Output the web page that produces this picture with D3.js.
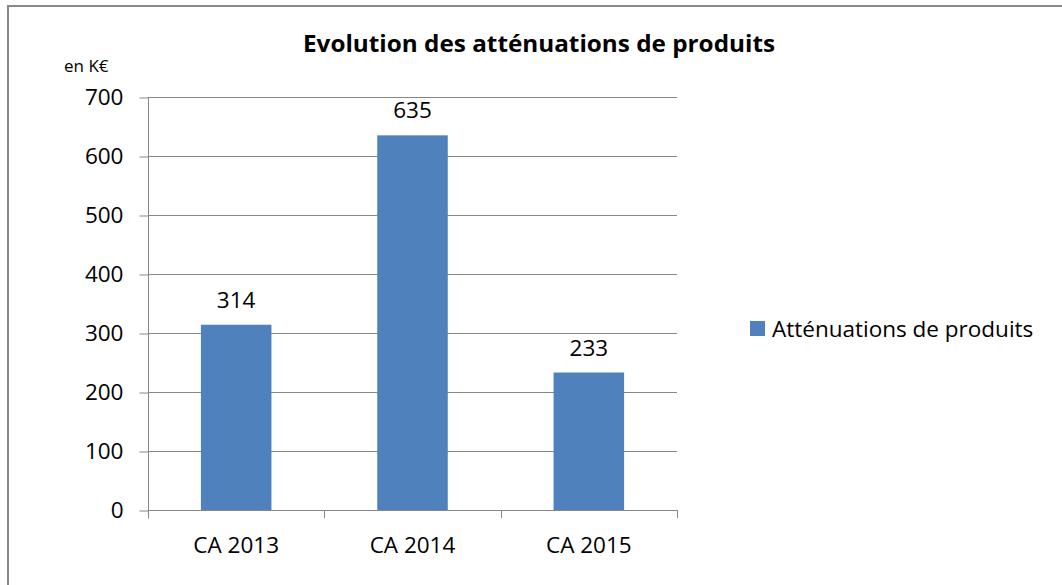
<!DOCTYPE html>
<html><head><meta charset="utf-8">
<script src="https://cdn.jsdelivr.net/npm/d3@7"></script>
<style>body{margin:0;background:#fff}svg{display:block}text{font-family:"Open Sans",sans-serif;fill:#000}</style>
</head><body><svg id="c" width="1062" height="585"></svg>
<script>
const categories = ["CA 2013", "CA 2014", "CA 2015"];
const values = [314, 635, 233];
const yTicks = [0, 100, 200, 300, 400, 500, 600, 700];
const seriesName = "Atténuations de produits";
const title = "Evolution des atténuations de produits";
const unit = "en K€";

const svg = d3.select("#c");
svg.append("rect").attr("x", 8).attr("y", 6).attr("width", 1100).attr("height", 700)
  .attr("fill", "#fff").attr("stroke", "#888").attr("stroke-width", 2);

const m = {left: 148, right: 677, top: 97, bottom: 510};
const x = d3.scaleBand().domain(categories).range([m.left, m.right]).paddingInner(0.6).paddingOuter(0.3);
const y = d3.scaleLinear().domain([0, 700]).range([m.bottom, m.top]);
const grey = "#868686";
const fs = 22.5;

// gridlines
svg.append("g").selectAll("line").data(yTicks.filter(d => d > 0)).join("line")
  .attr("x1", m.left).attr("x2", m.right).attr("y1", d => y(d) + 0.5).attr("y2", d => y(d) + 0.5)
  .attr("stroke", grey).attr("stroke-width", 1);

// y axis
const yAxis = svg.append("g").attr("transform", `translate(${m.left + 0.5},0.5)`)
  .call(d3.axisLeft(y).tickValues(yTicks).tickSize(9).tickPadding(16).tickSizeOuter(0));
yAxis.select(".domain").attr("stroke", grey).attr("d", `M0,${m.top}V${m.bottom + 8}`);
yAxis.selectAll(".tick line").attr("stroke", grey);
yAxis.selectAll(".tick text").attr("font-size", fs).attr("font-family", "Open Sans").attr("fill", "#000");

// x axis
const bounds = [m.left, ...categories.map(c => x(c) + x.bandwidth() / 2 + x.step() / 2)];
svg.append("line").attr("x1", m.left).attr("x2", m.right).attr("y1", m.bottom + 0.5).attr("y2", m.bottom + 0.5)
  .attr("stroke", grey);
svg.append("g").selectAll("line").data(bounds).join("line")
  .attr("x1", d => Math.round(d) + 0.5).attr("x2", d => Math.round(d) + 0.5)
  .attr("y1", m.bottom).attr("y2", m.bottom + 8).attr("stroke", grey);
svg.append("g").selectAll("text").data(categories).join("text")
  .attr("x", d => x(d) + x.bandwidth() / 2).attr("y", 553).attr("text-anchor", "middle")
  .attr("font-size", fs).text(d => d);

// bars
svg.append("g").selectAll("rect").data(values).join("rect")
  .attr("x", (d, i) => x(categories[i])).attr("width", x.bandwidth())
  .attr("y", d => y(d)).attr("height", d => y(0) - y(d)).attr("fill", "#4F81BD");

// value labels
svg.append("g").selectAll("text").data(values).join("text")
  .attr("x", (d, i) => x(categories[i]) + x.bandwidth() / 2).attr("y", d => y(d) - 17)
  .attr("text-anchor", "middle").attr("font-size", fs).text(d => d);

// title & unit
svg.append("text").attr("x", 539).attr("y", 52).attr("text-anchor", "middle")
  .attr("font-size", 23.5).attr("font-weight", "bold")
  .attr("textLength", 472).attr("lengthAdjust", "spacingAndGlyphs").text(title);
svg.append("text").attr("x", 64).attr("y", 72).attr("font-size", 17).text(unit);

// legend
svg.append("rect").attr("x", 750).attr("y", 321).attr("width", 15).attr("height", 15).attr("fill", "#4F81BD");
svg.append("text").attr("x", 772).attr("y", 337).attr("font-size", fs).text(seriesName);
</script></body></html>
